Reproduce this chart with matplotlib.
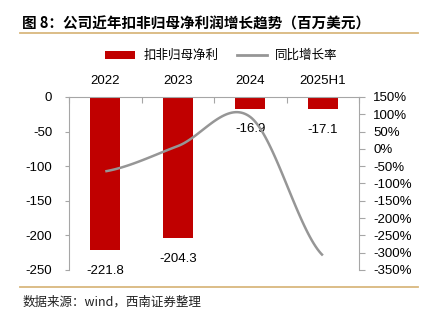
import matplotlib
matplotlib.use("Agg")
import matplotlib.pyplot as plt
import numpy as np
from matplotlib.patches import Patch
from matplotlib.lines import Line2D

plt.rcParams['font.family'] = ['Liberation Sans', 'Noto Sans CJK SC', 'DejaVu Sans']

categories = ['2022', '2023', '2024', '2025H1']
profit = [-221.8, -204.3, -16.9, -17.1]
growth = [-65, 8, 92, -308]   # %
left_ticks = [0, -50, -100, -150, -200, -250]
right_ticks = list(range(150, -351, -50))

title = '图 8：公司近年扣非归母净利润增长趋势（百万美元）'
source = '数据来源：wind，西南证券整理'

BAR = '#C00000'
LINE = '#969696'
AXC = '#A6A6A6'
GOLD = '#D9B77E'


def smooth(xs, ys, n=40):
    # Catmull-Rom style smoothing through the points (like a spreadsheet "smoothed line")
    xs = np.asarray(xs, float)
    ys = np.asarray(ys, float)
    outx, outy = [], []
    last = len(xs) - 1
    for i in range(last):
        p0 = ys[i - 1] if i > 0 else ys[i]
        p1, p2 = ys[i], ys[i + 1]
        p3 = ys[i + 2] if i + 2 <= last else ys[i + 1]
        c1 = p1 + (p2 - p0) / 6
        c2 = p2 - (p3 - p1) / 6
        t = np.linspace(0, 1, n)
        yy = (1 - t) ** 3 * p1 + 3 * (1 - t) ** 2 * t * c1 + 3 * (1 - t) * t ** 2 * c2 + t ** 3 * p2
        xx = xs[i] + t * (xs[i + 1] - xs[i])
        outx.append(xx)
        outy.append(yy)
    return np.concatenate(outx), np.concatenate(outy)


fig = plt.figure(figsize=(4.26, 3.22), dpi=100)
ax = fig.add_axes([0.162, 0.1615, 0.681, 0.5375])
x = np.arange(len(categories))

ax.bar(x, profit, width=0.41, color=BAR, zorder=2)
for xi, v in zip(x, profit):
    ax.annotate(f'{v:.1f}', (xi, v), xytext=(0, -15), textcoords='offset points',
                ha='center', va='center', fontsize=9.5, color='#000000')

ax.set_xlim(-0.5, 3.5)
ax.set_ylim(-250, 0)
ax.set_yticks(left_ticks)
ax.set_yticklabels([str(t) for t in left_ticks])
ax.tick_params(axis='y', colors=AXC, labelcolor='black', labelsize=9.5, length=3, pad=9)

ax.xaxis.tick_top()
ax.set_xticks([-0.5, 0.5, 1.5, 2.5, 3.5])
ax.set_xticklabels([])
ax.set_xticks(x, minor=True)
ax.set_xticklabels(categories, minor=True)
ax.tick_params(axis='x', which='major', direction='in', length=4, colors=AXC)
ax.tick_params(axis='x', which='minor', length=0, labelsize=9.5, pad=7, labelcolor='black')

for s in ['bottom', 'right']:
    ax.spines[s].set_visible(False)
for s in ['top', 'left']:
    ax.spines[s].set_color(AXC)

ax2 = ax.twinx()
sx, sy = smooth(x, growth)
ax2.plot(sx, sy, color=LINE, lw=1.8, solid_capstyle='butt', zorder=3)
ax2.set_ylim(-350, 150)
ax2.set_yticks(right_ticks)
ax2.set_yticklabels([f'{t}%' for t in right_ticks])
ax2.tick_params(axis='y', colors=AXC, labelcolor='black', labelsize=9.5, length=4, pad=6)
for s in ['top', 'bottom', 'left']:
    ax2.spines[s].set_visible(False)
ax2.spines['right'].set_color(AXC)

handles = [Patch(facecolor=BAR, edgecolor='none'), Line2D([0], [0], color=LINE, lw=2)]
fig.legend(handles, ['扣非归母净利', '同比增长率'], loc='center', bbox_to_anchor=(0.52, 0.826),
           ncol=2, frameon=False, fontsize=9, handlelength=2.4, handleheight=0.6,
           columnspacing=1.5, handletextpad=0.65, borderpad=0, borderaxespad=0)

fig.text(0.052, 0.928, title, fontsize=10.5, fontweight='bold', ha='left', va='center',
         family=['Noto Sans CJK SC', 'DejaVu Sans'])
fig.add_artist(Line2D([0.047, 0.982], [0.897, 0.897], color=GOLD, lw=1.3))
fig.add_artist(Line2D([0.047, 0.982], [0.109, 0.109], color=GOLD, lw=1.3))
fig.text(0.052, 0.062, source, fontsize=9, ha='left', va='center', color='#222222',
         family=['Noto Sans CJK SC', 'DejaVu Sans'])

fig.savefig('out.png', dpi=100)
